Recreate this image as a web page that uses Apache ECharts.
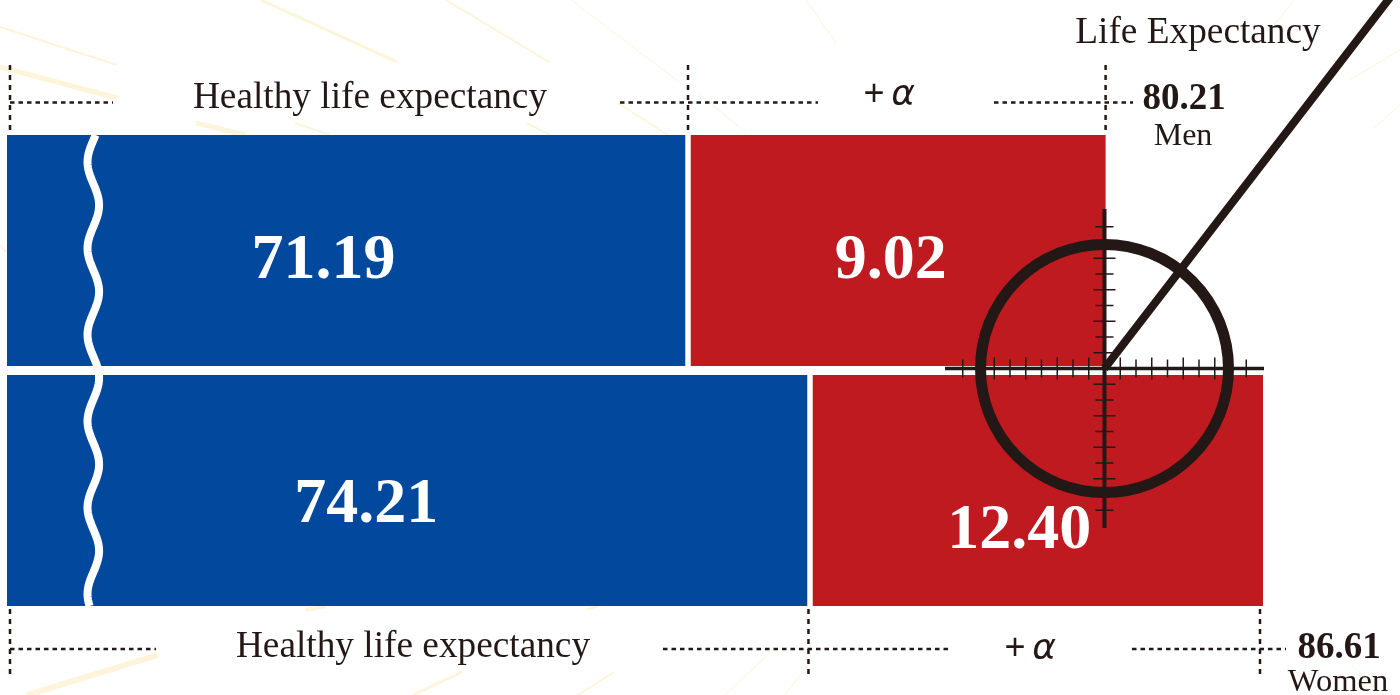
<!DOCTYPE html>
<html>
<head>
<meta charset="utf-8">
<style>html,body{margin:0;padding:0;background:#fff}#c{width:1400px;height:695px}</style>
<script src="https://cdn.jsdelivr.net/npm/echarts@6/dist/echarts.min.js"></script>
</head>
<body>
<div id="c"></div>
<script>
const categories = ['Men', 'Women'];
const healthyLife = [71.19, 74.21];
const plusAlpha = [9.02, 12.40];
const lifeExpectancy = ['80.21', '86.61'];
// The source breaks its axis (wavy cut), and each row has its own truncated scale.
const axisMin = [56.48, 52.27];
const axisMax = [83.61, 86.61];
const rowTop = [135, 375];
const rowHeight = 231;
const labelOffsetHealthy = [[-24, 11], [-42, 15]];
const labelOffsetAlpha = [[-6, 11], [-17, 41]];

const BLUE = '#02499e', RED = '#be1a20', INK = '#231815', RAY = '#fdf4da';
const SERIF = '"Liberation Serif","Times New Roman",serif';

const chart = echarts.init(document.getElementById('c'), null, {renderer: 'canvas'});
const labelStyle = (off) => ({
  show: true, position: 'inside', offset: off, color: '#fff',
  fontFamily: SERIF, fontWeight: 'bold', fontSize: 64,
  formatter: (p) => p.value.toFixed(2)
});
chart.setOption({
  animation: false,
  backgroundColor: '#fff',
  grid: categories.map((c, i) => ({left: 7, width: 1256, top: rowTop[i], height: rowHeight})),
  xAxis: categories.map((c, i) => ({type: 'value', gridIndex: i, min: axisMin[i], max: axisMax[i], show: false})),
  yAxis: categories.map((c, i) => ({type: 'category', gridIndex: i, data: [c], show: false})),
  series: categories.flatMap((c, i) => [
    {
      type: 'bar', name: c + ' healthy', stack: c, xAxisIndex: i, yAxisIndex: i, barWidth: '100%',
      data: [healthyLife[i]], itemStyle: {color: BLUE}, label: labelStyle(labelOffsetHealthy[i]), z: 2
    },
    {
      type: 'bar', name: c + ' alpha', stack: c, xAxisIndex: i, yAxisIndex: i, barWidth: '100%',
      data: [plusAlpha[i]], itemStyle: {color: RED}, label: labelStyle(labelOffsetAlpha[i]), z: 2,
      markLine: {
        silent: true, symbol: 'none', label: {show: false}, animation: false,
        lineStyle: {color: '#fff', width: 5.5, type: 'solid'},
        data: [{xAxis: healthyLife[i]}]
      }
    }
  ])
});

// ---- decoration and annotation ----
const px = (row, v) => chart.convertToPixel({gridIndex: row}, [v, 0])[0];
const g = [];
const seg = (x1, y1, x2, y2, stroke, lineWidth, z, lineDash) => g.push({
  type: 'line', z: z, silent: true,
  shape: {x1, y1, x2, y2},
  style: {stroke, lineWidth, lineDash: lineDash || null}
});
const txt = (text, x, y, font, fill, align) => g.push({
  type: 'text', z: 50, silent: true,
  style: {text, x, y, font, fill: fill || INK, textAlign: align || 'center', textVerticalAlign: 'middle'}
});

// faint background rays
const rays = [
  [261,0,397,62,3],[446,0,549,62,2],[571,0,683,85,1],[0,27,117,65,2],[0,67,117,98,5],
  [196,123,245,135,5],[295,123,330,135,2],[527,123,550,135,2],[618,103,668,135,1.5],
  [27,695,158,655,6],[413,695,462,672,3],[578,695,614,672,1.5],[306,610,326,606,4],[587,610,597,606,2],
  [806,0,836,43,1],[700,95,747,133,1],[1294,0,1270,30,1],[1400,50,1350,80,1],[1400,105,1374,128,1],
  [771,652,725,695,1],[818,652,785,695,1],[1347,660,1383,695,1],[0,245,6,252,2]
];
rays.forEach(r => seg(r[0], r[1], r[2], r[3], RAY, r[4], 0));

// dashed brackets
const menSplit = px(0, healthyLife[0]);
const menEnd = px(0, healthyLife[0] + plusAlpha[0]);
const womenSplit = px(1, healthyLife[1]);
const womenEnd = px(1, healthyLife[1] + plusAlpha[1]) - 3;
[[10, 65, 135], [menSplit, 65, 135], [menEnd, 65, 135], [10, 609, 679], [womenSplit - 1, 609, 679], [womenEnd, 609, 679]]
  .forEach(v => seg(v[0], v[1], v[0], v[2], INK, 2.5, 20, [5, 5]));
[[10, 113, 102.5], [620, 818, 102.5], [994, 1133, 102.5], [10, 156, 649], [663, 952, 649], [1132, 1286, 649]]
  .forEach(h => seg(h[0], h[2], h[1], h[2], INK, 2.5, 20, [4.5, 4]));

// wavy axis-break mark
const wave = [];
for (let y = 135; y <= 606; y += 3) {
  wave.push([93.3 - 5.8 * Math.cos(2 * Math.PI * (y - 162) / 86.4), y]);
}
g.push({type: 'polyline', z: 30, silent: true, shape: {points: wave},
  style: {stroke: '#fff', lineWidth: 8, fill: null}});

// scope / gauge
const cx = 1104.5, cy = 368.5, step = 15.75;
seg(cx, cy, 1392, -5, INK, 8, 40);
seg(945, cy, 1264, cy, INK, 3.5, 40);
seg(cx, 209, cx, 528, INK, 4, 40);
for (let n = 1; n <= 9; n++) {
  const half = (n % 2 === 1 && n !== 9) ? 11 : 9;
  [-1, 1].forEach(s => {
    seg(cx + s * n * step, cy - half, cx + s * n * step, cy + half, INK, 1.5, 39);
    seg(cx - half, cy + s * n * step, cx + half, cy + s * n * step, INK, 1.5, 39);
  });
}
g.push({type: 'circle', z: 41, silent: true, shape: {cx, cy, r: 124},
  style: {stroke: INK, lineWidth: 11, fill: null}});

// text
txt('Healthy life expectancy', 370, 98, '37.3px ' + SERIF);
txt('Healthy life expectancy', 413, 647, '37.3px ' + SERIF);
txt('Life Expectancy', 1198, 33, '37.3px ' + SERIF);
txt(lifeExpectancy[0], 1184, 99, 'bold 37px ' + SERIF);
txt(categories[0], 1183, 137, '32px ' + SERIF);
txt(lifeExpectancy[1], 1339, 648, 'bold 37px ' + SERIF);
txt(categories[1], 1338, 682, '32.5px ' + SERIF);
[[890, 94], [1031, 648]].forEach(p => {
  txt('+', p[0] - 16, p[1] + 1, '36px "Liberation Sans",sans-serif', INK);
  txt('\u03b1', p[0] + 13, p[1] + 2, 'italic 36px "DejaVu Sans",sans-serif', INK);
});

chart.setOption({graphic: {elements: g}});
</script>
</body>
</html>
